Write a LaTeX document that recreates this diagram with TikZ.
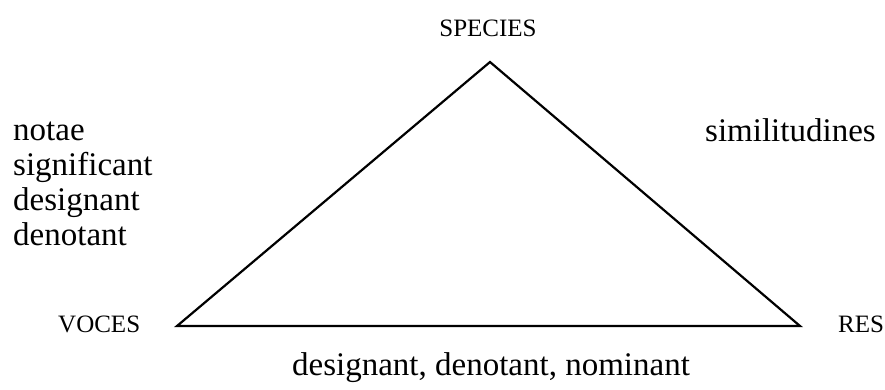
\documentclass[tikz,border=0pt]{standalone}
\usepackage{fontspec}
\setmainfont{Liberation Serif}

\begin{document}
\begin{tikzpicture}[
  x=1pt, y=-1pt,
  caps/.style={font=\fontsize{25}{25}\selectfont, inner sep=0pt},
  words/.style={font=\fontsize{33}{35}\selectfont, inner sep=0pt, align=left},
  edge/.style={line width=2.2pt}
]
  \useasboundingbox (0,0) rectangle (885,389);

  \coordinate (top) at (490,62);
  \coordinate (left) at (177,326);
  \coordinate (right) at (800,326);

  \node[caps, anchor=base] (species) at (488,36) {SPECIES};
  \node[caps, anchor=base west] (voces) at (58,332) {VOCES};
  \node[caps, anchor=base west] (res) at (838,332) {RES};

  % base of a multi-line node is the last line
  \node[words, anchor=base west] (notae) at (13,245) {notae\\ significant\\ designant\\ denotant};
  \node[words, anchor=base west] (simil) at (705,141) {similitudines};
  \node[words, anchor=base] (nomin) at (491,375) {designant, denotant, nominant};

  \draw[edge] (top) -- (right) -- (left) -- cycle;
\end{tikzpicture}
\end{document}
